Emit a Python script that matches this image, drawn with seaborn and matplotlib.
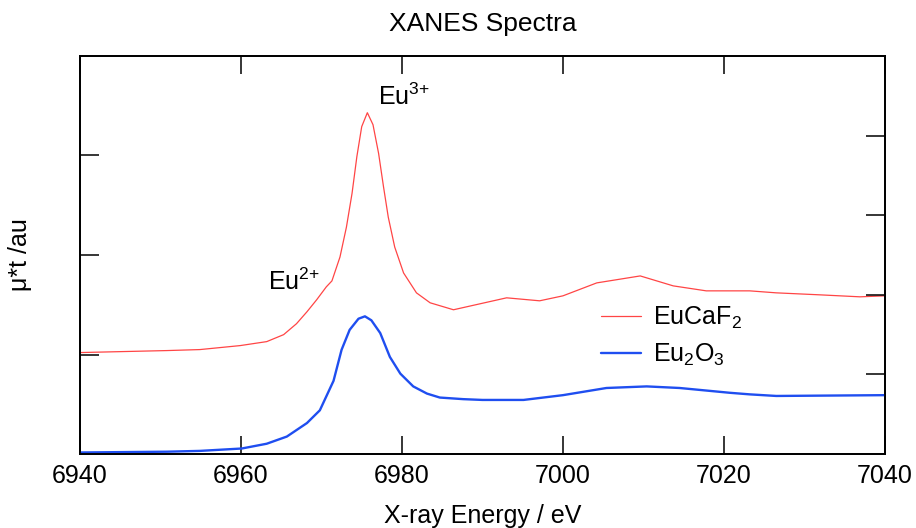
import numpy as np
import pandas as pd
import matplotlib
matplotlib.use("Agg")
import matplotlib.pyplot as plt
import seaborn as sns

# ==================================================
# DATA
# ==================================================

# EuCaF2 spectrum (left axis)
energy_caf = [6940.0, 6950.8, 6954.9, 6959.9, 6963.2, 6965.3, 6966.9, 6968.2,
              6969.4, 6970.6, 6971.3, 6972.3, 6973.1, 6973.8, 6974.4, 6975.0,
              6975.7, 6976.4, 6977.1, 6977.7, 6978.3, 6979.1, 6980.2, 6981.8,
              6983.5, 6986.4, 6989.7, 6993.0, 6997.1, 7000.0, 7004.2, 7009.6,
              7013.7, 7017.8, 7023.2, 7026.5, 7031.9, 7036.9, 7040.0]
mu_caf = [1.02, 1.04, 1.05, 1.09, 1.13, 1.20, 1.31, 1.43,
          1.55, 1.68, 1.74, 1.98, 2.28, 2.62, 2.99, 3.29,
          3.43, 3.31, 3.02, 2.69, 2.38, 2.08, 1.82, 1.62,
          1.52, 1.45, 1.51, 1.57, 1.54, 1.59, 1.72, 1.79,
          1.69, 1.64, 1.64, 1.62, 1.60, 1.58, 1.59]

# Eu2O3 spectrum (right axis)
energy_ox = [6940.0, 6950.8, 6954.9, 6960.1, 6963.2, 6965.7, 6968.2, 6969.8,
             6971.5, 6972.5, 6973.5, 6974.6, 6975.4, 6976.2, 6977.3, 6978.5,
             6979.8, 6981.4, 6983.1, 6984.7, 6987.6, 6990.0, 6995.1, 7000.0,
             7005.4, 7010.4, 7014.5, 7020.7, 7023.2, 7026.5, 7040.0]
mu_ox = [0.02, 0.03, 0.04, 0.07, 0.13, 0.22, 0.39, 0.55,
         0.92, 1.31, 1.56, 1.70, 1.73, 1.68, 1.52, 1.22,
         1.01, 0.85, 0.76, 0.71, 0.69, 0.68, 0.68, 0.74,
         0.83, 0.85, 0.83, 0.77, 0.75, 0.73, 0.74]

x_ticks = [6940, 6960, 6980, 7000, 7020, 7040]
labels = ["EuCaF$_2$", "Eu$_2$O$_3$"]

df_caf = pd.DataFrame({"energy": energy_caf, "mu": mu_caf})
df_ox = pd.DataFrame({"energy": energy_ox, "mu": mu_ox})

# ==================================================
# STYLE
# ==================================================

sns.set_style("ticks")
plt.rcParams["font.family"] = ["Liberation Sans", "DejaVu Sans"]
plt.rcParams["mathtext.fontset"] = "custom"
plt.rcParams["mathtext.rm"] = "Liberation Sans"
plt.rcParams["mathtext.default"] = "regular"
plt.rcParams["text.color"] = "black"
plt.rcParams["axes.labelcolor"] = "black"
plt.rcParams["xtick.color"] = "black"
plt.rcParams["ytick.color"] = "black"

FS = 18

# ==================================================
# PLOT
# ==================================================

fig = plt.figure(figsize=(9.16, 5.28), dpi=100)
ax = fig.add_axes([0.0873, 0.140, 0.8788, 0.754])
ax2 = ax.twinx()

sns.lineplot(data=df_caf, x="energy", y="mu", ax=ax,
             color="#ff4545", linewidth=0.9, label=labels[0], legend=False)
sns.lineplot(data=df_ox, x="energy", y="mu", ax=ax2,
             color="#1f4ef0", linewidth=1.7, label=labels[1], legend=False)

ax.set_xlim(6940, 7040)
ax.set_ylim(0, 4.0)
ax2.set_ylim(0, 5.0)

ax.set_xticks(x_ticks)
ax.set_yticks([1, 2, 3])
ax2.set_yticks([1, 2, 3, 4])
ax.set_yticklabels([])
ax2.set_yticklabels([])

ax.tick_params(axis="x", direction="in", length=13, width=1.1,
               top=True, labelsize=FS, pad=7)
ax.tick_params(axis="y", direction="in", length=14, width=1.1)
ax2.tick_params(axis="y", direction="in", length=14, width=1.1)

for a in (ax, ax2):
    for s in a.spines.values():
        s.set_linewidth(1.3)
        s.set_color("black")

ax.set_xlabel("X-ray Energy / eV", fontsize=FS)
ax.xaxis.set_label_coords(0.5, -0.125)
ax.set_ylabel("μ*t /au", fontsize=FS)
ax.yaxis.set_label_coords(-0.06, 0.5)
ax2.set_ylabel("")

ax.set_title("XANES Spectra", fontsize=19, pad=18)

# Oxidation state labels
ax.text(6977.0, 3.51, "Eu$^{3{+}}$", fontsize=FS, ha="left", va="baseline")
ax.text(6963.4, 1.65, "Eu$^{2{+}}$", fontsize=FS, ha="left", va="baseline")

# Legend
h1, l1 = ax.get_legend_handles_labels()
h2, l2 = ax2.get_legend_handles_labels()
ax2.legend(h1 + h2, l1 + l2, loc="upper left",
           bbox_to_anchor=(0.647, 0.375), frameon=False, fontsize=FS,
           borderpad=0, borderaxespad=0, handlelength=1.6,
           handletextpad=0.5, labelspacing=0.45)

fig.savefig("out.png", dpi=100)
